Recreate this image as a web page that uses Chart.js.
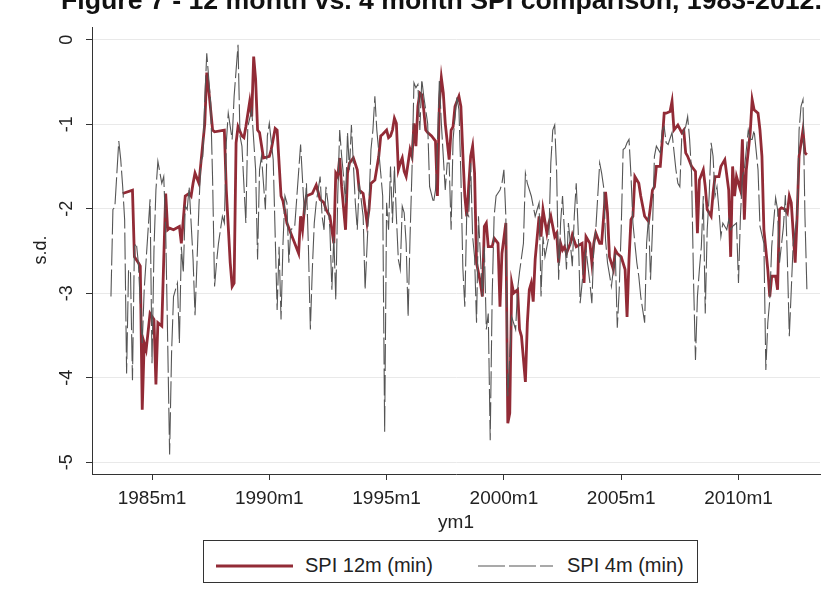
<!DOCTYPE html>
<html>
<head>
<meta charset="utf-8">
<script src="https://cdn.jsdelivr.net/npm/chart.js@4.4.1/dist/chart.umd.min.js"></script>
<style>
  body { margin: 0; background: #fff; }
  #page { position: relative; width: 827px; height: 605px; overflow: hidden; background: #fff;
          font-family: 'Liberation Sans', Arial, Helvetica, sans-serif; color: #222; }
  #title { position: absolute; left: 61px; top: -13px; font-weight: bold; font-size: 26.7px;
           line-height: 27px; white-space: nowrap; color: #111; }
  #chart { position: absolute; left: 0; top: 0; }
  #legend { position: absolute; left: 203px; top: 540px; width: 495px; height: 43px;
            box-sizing: border-box; border: 1px solid #333; background: #fff; }
  #legend svg { position: absolute; left: 0; top: 0; }
  .lg { position: absolute; top: 14px; font-size: 20px; line-height: 20px; white-space: nowrap; color: #222; }
</style>
</head>
<body>
<div id="page">
  <canvas id="chart" width="827" height="605"></canvas>
  <div id="title">Figure 7 - 12 month vs. 4 month SPI comparison, 1983-2012.</div>
  <div id="legend">
    <svg width="495" height="43">
      <line x1="12" y1="25" x2="89" y2="25" stroke="#922b36" stroke-width="3"/>
      <line x1="274" y1="25" x2="349" y2="25" stroke="#555" stroke-width="1.2" stroke-dasharray="27 4"/>
    </svg>
    <span class="lg" style="left:101px">SPI 12m (min)</span>
    <span class="lg" style="left:363px">SPI 4m (min)</span>
  </div>
</div>
<script>
// months are Stata %tm values (months since 1960m1)
const months12 = [
  285,290,291,293,294,295,296,297,299,301,
  302,303,305,307,308,309,311,314,315,316,
  317,319,320,321,322,324,325,327,328,329,
  330,331,332,337,338,340,341,342,343,344,
  346,347,348,350,351,352,353,354,355,357,
  360,361,363,364,366,367,369,371,373,375,
  376,377,378,379,382,384,386,388,389,391,
  393,394,395,396,397,399,400,401,403,405,
  406,408,410,411,412,414,416,417,418,420,
  421,422,423,424,425,426,427,428,429,430,
  432,433,434,435,436,437,438,439,440,441,
  443,445,446,447,448,449,450,452,453,454,
  455,457,458,459,460,461,463,464,465,466,
  468,469,470,471,472,474,475,477,478,479,
  481,482,483,484,485,487,488,489,491,492,
  493,494,495,496,498,499,500,502,503,504,
  506,507,508,509,510,511,512,514,515,517,
  520,521,522,524,525,526,527,529,530,532,
  533,534,536,537,538,540,542,543,544,545,
  546,547,549,550,552,554,555,556,557,558,
  560,561,562,563,565,566,567,569,571,572,
  573,574,576,578,579,580,582,583,584,586,
  587,588,590,591,593,595,596,597,598,599,
  601,602,603,604,606,607,608,610,611,612,
  613,615,616,617,619,620,621,622,624,625,
  626,627,629,630,631,633,634,635
];
const spi12 = [
  -1.82,-1.78,-2.57,-2.64,-2.68,-4.38,-3.59,-3.67,-3.24,-3.31,
  -4.08,-3.35,-3.39,-1.82,-2.25,-2.23,-2.25,-2.21,-2.41,-2.13,
  -1.85,-1.82,-1.85,-1.70,-1.58,-1.70,-1.46,-0.99,-0.39,-0.59,
  -0.83,-1.07,-1.09,-1.07,-1.78,-2.64,-2.92,-2.88,-1.22,-1.03,
  -1.14,-1.16,-1.03,-0.73,-0.91,-0.20,-0.47,-1.07,-1.10,-1.40,
  -1.38,-1.30,-1.05,-1.07,-1.85,-1.91,-2.17,-2.29,-2.41,-2.53,
  -2.09,-2.25,-1.99,-1.85,-1.82,-1.72,-1.89,-1.93,-2.01,-2.09,
  -2.41,-1.58,-1.62,-1.40,-1.74,-2.25,-1.58,-1.46,-1.40,-1.54,
  -1.78,-1.82,-2.17,-2.01,-1.70,-1.66,-1.38,-1.14,-1.12,-1.07,
  -1.16,-1.14,-1.07,-0.93,-0.99,-1.54,-1.46,-1.40,-1.56,-1.62,
  -1.30,-1.38,-0.99,-1.26,-0.79,-0.63,-0.65,-0.83,-1.07,-1.10,
  -1.14,-1.20,-1.85,-0.75,-0.45,-0.63,-0.99,-1.42,-1.07,-1.03,
  -0.79,-0.67,-0.79,-1.35,-1.85,-2.09,-1.38,-1.26,-1.58,-2.64,
  -2.88,-3.04,-2.21,-2.17,-2.45,-2.45,-2.35,-2.41,-3.16,-2.53,
  -2.17,-4.54,-4.42,-2.88,-3.00,-2.96,-3.43,-3.51,-4.05,-3.35,
  -2.96,-2.88,-3.10,-2.60,-2.09,-2.33,-2.01,-2.29,-2.17,-2.09,
  -2.33,-2.29,-2.64,-2.41,-2.49,-2.45,-2.53,-2.41,-2.31,-2.45,
  -2.41,-2.88,-2.33,-2.41,-2.64,-2.41,-2.29,-2.41,-2.41,-1.80,
  -2.05,-2.57,-2.72,-2.49,-2.53,-2.57,-2.72,-3.28,-2.60,-2.13,
  -2.09,-1.62,-1.70,-1.85,-2.09,-2.15,-1.97,-1.78,-1.74,-1.50,
  -1.50,-1.20,-0.87,-0.87,-0.85,-0.73,-1.07,-1.01,-1.10,-1.07,
  -1.34,-1.38,-1.50,-1.56,-2.29,-1.66,-1.54,-1.74,-2.01,-2.09,
  -1.82,-1.62,-1.62,-1.50,-1.42,-1.78,-2.57,-1.50,-1.85,-1.62,
  -1.78,-1.18,-2.13,-1.54,-1.10,-0.71,-0.83,-0.87,-1.07,-1.38,
  -2.25,-2.72,-3.04,-2.80,-2.80,-2.96,-2.01,-1.99,-2.01,-2.05,
  -1.85,-1.93,-2.64,-2.09,-1.38,-1.07,-1.34,-1.36
];
const months4 = [
  279,280,281,283,284,285,286,287,288,289,
  290,291,292,293,295,296,298,299,300,301,
  302,303,305,306,307,308,309,310,311,313,
  314,315,316,317,318,319,321,322,323,324,
  325,326,327,328,330,331,332,333,334,335,
  336,337,338,339,341,342,344,345,346,348,
  349,351,353,354,355,356,358,359,360,362,
  364,365,366,367,368,369,370,371,373,376,
  377,378,379,380,381,382,383,384,386,387,
  388,389,390,391,392,393,394,395,396,397,
  398,399,400,401,402,404,405,406,408,409,
  411,412,413,414,415,417,418,419,420,421,
  422,423,424,425,426,427,428,429,430,431,
  432,433,434,435,436,437,438,439,441,442,
  444,445,446,447,448,450,451,452,453,454,
  456,457,458,459,460,461,462,463,464,465,
  466,467,469,470,471,472,473,474,475,476,
  478,479,480,481,482,483,484,486,487,488,
  490,491,492,494,496,498,499,500,501,503,
  504,505,506,507,508,509,510,512,513,514,
  515,516,517,518,519,521,522,524,525,526,
  527,529,530,531,532,533,535,536,537,538,
  539,540,541,542,543,544,545,546,547,548,
  549,550,552,553,554,555,556,557,558,560,
  561,562,563,564,566,568,569,570,571,573,
  574,575,576,577,578,579,580,581,582,583,
  584,585,586,587,588,589,590,591,592,594,
  595,596,597,599,600,601,602,603,605,606,
  607,608,610,611,613,614,615,616,617,619,
  620,621,623,624,625,626,627,628,630,631,
  632,633,634,635
];
const spi4 = [
  -3.04,-2.01,-1.98,-1.20,-1.42,-1.74,-2.13,-3.95,-2.72,-2.76,
  -4.03,-2.45,-2.41,-2.64,-3.59,-2.96,-2.25,-1.89,-3.83,-2.49,
  -1.78,-1.44,-1.70,-1.62,-2.25,-3.55,-4.91,-3.71,-3.04,-2.88,
  -3.59,-2.45,-2.76,-1.97,-2.01,-1.74,-2.60,-3.26,-2.64,-1.97,
  -1.44,-1.38,-0.71,-0.16,-0.75,-1.66,-2.92,-2.64,-2.41,-2.25,
  -2.09,-2.17,-1.22,-0.87,-1.18,-0.67,-0.06,-1.14,-1.26,-2.17,
  -1.03,-0.83,-1.54,-2.60,-1.54,-1.38,-2.01,-1.14,-0.99,-1.42,
  -3.20,-2.45,-3.31,-2.41,-1.85,-1.93,-2.64,-2.25,-2.21,-1.24,
  -1.66,-2.09,-1.70,-2.45,-3.43,-2.72,-2.17,-1.93,-1.62,-2.09,
  -2.25,-1.74,-1.93,-2.25,-2.96,-2.33,-3.08,-1.85,-1.07,-1.38,
  -1.62,-1.93,-1.10,-1.54,-1.01,-1.93,-2.25,-1.70,-2.09,-2.96,
  -1.93,-1.30,-1.07,-0.67,-1.07,-1.58,-1.85,-4.64,-1.93,-2.25,
  -1.50,-2.17,-1.50,-2.09,-2.60,-2.72,-1.97,-2.05,-2.41,-3.28,
  -2.33,-1.54,-0.51,-0.57,-0.53,-1.07,-0.47,-0.67,-0.99,-1.74,
  -1.93,-1.78,-1.26,-0.47,-0.99,-1.78,-1.46,-1.46,-2.25,-1.18,
  -0.67,-0.83,-1.60,-2.70,-3.16,-2.05,-2.09,-1.46,-2.33,-2.57,
  -3.35,-2.09,-3.04,-2.45,-3.43,-3.24,-4.74,-3.04,-2.09,-1.85,
  -1.78,-1.70,-1.54,-2.09,-4.22,-3.75,-3.28,-3.43,-2.96,-2.75,
  -2.41,-1.58,-1.70,-1.85,-2.09,-1.93,-3.04,-2.33,-2.57,-2.33,
  -1.46,-1.07,-1.01,-1.58,-2.84,-2.17,-1.85,-2.72,-2.17,-2.41,
  -2.68,-2.09,-1.70,-2.25,-3.12,-2.64,-2.49,-2.88,-3.12,-2.45,
  -2.25,-1.46,-1.58,-1.74,-2.37,-2.64,-2.92,-2.72,-2.53,-3.41,
  -2.96,-2.25,-1.30,-1.28,-1.22,-1.18,-1.60,-2.17,-2.41,-2.64,
  -2.80,-3.04,-3.35,-2.41,-2.09,-2.84,-2.25,-1.38,-1.26,-1.34,
  -1.07,-1.03,-1.22,-1.24,-1.10,-1.54,-1.70,-1.74,-1.14,-1.03,
  -0.91,-1.18,-1.58,-2.84,-3.79,-3.04,-2.72,-2.45,-1.85,-3.24,
  -2.25,-1.85,-1.22,-1.38,-1.85,-1.74,-2.01,-2.33,-2.17,-2.25,
  -2.13,-2.25,-2.21,-2.17,-2.88,-2.09,-1.62,-1.54,-1.07,-1.18,
  -1.18,-1.07,-1.54,-2.21,-2.41,-3.91,-3.35,-3.08,-2.45,-1.87,
  -2.01,-2.64,-2.21,-1.84,-2.60,-3.51,-2.96,-2.41,-2.09,-1.07,
  -0.79,-0.71,-2.09,-2.96
];
const xTicks = [300, 360, 420, 480, 540, 600];
const yTicks = [0, -1, -2, -3, -4, -5];

const FONT = "'Liberation Sans', Arial, Helvetica, sans-serif";

function tmLabel(v) {
  return (1960 + Math.floor(v / 12)) + 'm' + (v % 12 + 1);
}

function pairs(xs, ys) {
  const n = Math.min(xs.length, ys.length);
  const out = [];
  for (let i = 0; i < n; i++) out.push({ x: xs[i], y: ys[i] });
  return out;
}

// axis labels drawn by hand so the y labels can stand vertical like Stata's
const stataText = {
  id: 'stataText',
  afterDraw(chart) {
    const ctx = chart.ctx;
    const xs = chart.scales.x;
    const ys = chart.scales.y;
    ctx.save();
    ctx.fillStyle = '#222';

    ctx.font = '19px ' + FONT;
    ctx.textAlign = 'center';
    ctx.textBaseline = 'alphabetic';
    xTicks.forEach(v => ctx.fillText(tmLabel(v), xs.getPixelForValue(v), 504));
    ctx.fillText('ym1', (xs.left + xs.right) / 2, 528);

    ctx.font = '18px ' + FONT;
    ctx.textBaseline = 'middle';
    yTicks.forEach(v => {
      ctx.save();
      ctx.translate(67, ys.getPixelForValue(v));
      ctx.rotate(-Math.PI / 2);
      ctx.fillText(String(v), 0, 0);
      ctx.restore();
    });
    ctx.save();
    ctx.translate(41, 250);
    ctx.rotate(-Math.PI / 2);
    ctx.fillText('s.d.', 0, 0);
    ctx.restore();

    ctx.restore();
  }
};

new Chart(document.getElementById('chart').getContext('2d'), {
  type: 'line',
  data: {
    datasets: [
      {
        label: 'SPI 12m (min)',
        data: pairs(months12, spi12),
        borderColor: '#922b36',
        borderWidth: 2.8,
        pointRadius: 0,
        tension: 0,
        order: 1
      },
      {
        label: 'SPI 4m (min)',
        data: pairs(months4, spi4),
        borderColor: '#555555',
        borderWidth: 1.1,
        borderDash: [27, 4],
        pointRadius: 0,
        tension: 0,
        order: 0
      }
    ]
  },
  options: {
    responsive: false,
    animation: false,
    layout: { padding: { top: 27, right: 7, left: 0, bottom: 0 } },
    plugins: {
      legend: { display: false },
      tooltip: { enabled: false },
      title: { display: false }
    },
    scales: {
      x: {
        type: 'linear',
        min: 269.3,
        max: 641.7,
        afterBuildTicks: axis => { axis.ticks = xTicks.map(v => ({ value: v })); },
        afterFit: axis => { axis.height = 131; },
        ticks: { display: false },
        grid: { drawOnChartArea: false, drawTicks: true, tickLength: 6, tickColor: '#333' },
        border: { color: '#333', width: 1 }
      },
      y: {
        type: 'linear',
        min: -5.14,
        max: 0.15,
        afterBuildTicks: axis => { axis.ticks = yTicks.map(v => ({ value: v })); },
        afterFit: axis => { axis.width = 92; },
        ticks: { display: false },
        grid: { color: '#e9e9e9', lineWidth: 1, drawTicks: true, tickLength: 6, tickColor: '#333' },
        border: { color: '#333', width: 1 }
      }
    }
  },
  plugins: [stataText]
});
</script>
</body>
</html>
